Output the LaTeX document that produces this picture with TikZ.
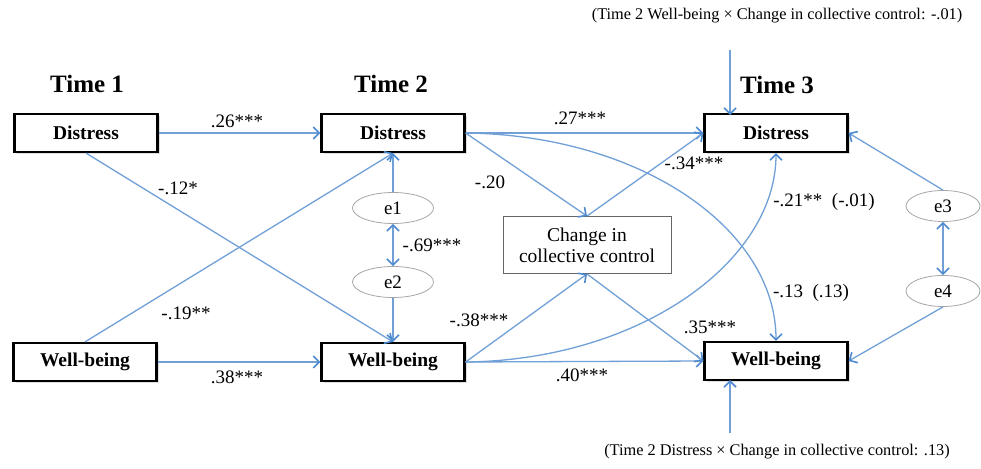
\documentclass[tikz,border=0pt]{standalone}
\usepackage{fontspec}
\setmainfont{Liberation Serif}
\usetikzlibrary{arrows.meta,shapes.geometric,shadows}
\definecolor{ln}{RGB}{112,160,214}
\definecolor{tipc}{RGB}{78,138,208}
\begin{document}
\begin{tikzpicture}[x=1pt,y=-1pt,
  var/.style={draw=black, line width=2.2pt, fill=white, minimum width=143pt, minimum height=38pt,
    font=\fontsize{19.5}{21}\selectfont\bfseries, inner sep=0pt,
    drop shadow={opacity=0.25, shadow xshift=2pt, shadow yshift=-2pt}},
  err/.style={ellipse, draw=gray!70, line width=0.8pt, minimum width=81pt, minimum height=31pt,
    font=\fontsize{19}{21}\selectfont, inner sep=0pt},
  lab/.style={font=\fontsize{19}{21}\selectfont, inner sep=1pt},
  note/.style={font=\fontsize{16.3}{18}\selectfont, inner sep=1pt},
  timelab/.style={font=\fontsize{25}{27}\selectfont\bfseries, inner sep=0pt},
  arr/.style={draw=ln, line width=1.3pt, -{Straight Barb[length=6pt,width=12pt,line width=1.6pt,color=tipc]}},
  darr/.style={draw=ln, line width=1.3pt, {Straight Barb[length=6pt,width=12pt,line width=1.6pt,color=tipc]}-{Straight Barb[length=6pt,width=12pt,line width=1.6pt,color=tipc]}}
]
\useasboundingbox (0,0) rectangle (981,468);

% Time headings
\node[timelab] (t1) at (87,84) {Time 1};
\node[timelab] (t2) at (391,84) {Time 2};
\node[timelab] (t3) at (777,85) {Time 3};

% Variables
\node[var] (D1) at (86,133) {Distress};
\node[var] (W1) at (85,362) {Well-being};
\node[var] (D2) at (393,133) {Distress};
\node[var] (W2) at (393,362) {Well-being};
\node[var] (D3) at (776,133) {Distress};
\node[var] (W3) at (776,361) {Well-being};
\node[draw=gray!80!black, line width=0.9pt, minimum width=168pt, minimum height=57pt, align=center,
  font=\fontsize{19.5}{21}\selectfont, inner sep=0pt] (C) at (587,245) {Change in\\collective control};

% Errors
\node[err] (e1) at (393,208) {e1};
\node[err] (e2) at (393,282) {e2};
\node[err, minimum width=74pt] (e3) at (943,206) {e3};
\node[err, minimum width=74pt] (e4) at (943,291) {e4};

% Interaction notes
\node[note] (topnote) at (777,16) {(Time 2 Well-being × Change in collective control: -.01)};
\node[note] (botnote) at (777,452) {(Time 2 Distress × Change in collective control: .13)};
\coordinate (topstart) at (730,50);
\coordinate (topend) at (730,115);
\coordinate (botstart) at (730,433);
\coordinate (botend) at (730,380);

% Paths
\draw[arr] (D1.east) -- (D2.west);
\draw[arr] (W1.east) -- (W2.west);
\draw[arr] (D1.south) -- (W2.north);
\draw[arr] (W1.north) -- (D2.south);
\draw[arr] (e1.north) -- (D2.south);
\draw[arr] (e2.south) -- (W2.north);
\draw[darr] (e1.south) -- (e2.north);

\draw[arr] (D2.east) -- (D3.west);
\draw[arr] (D2.east) -- (C.north);
\draw[arr] (D2.east) .. controls +(175,2) and +(0,-112) .. (W3.north);
\draw[arr] (W2.east) -- (C.south);
\draw[arr] (W2.east) .. controls +(175,-2) and +(0,108) .. (D3.south);
\draw[arr] (W2.east) -- (W3.west);
\draw[arr] (C.north) -- (D3.west);
\draw[arr] (C.south) -- (W3.west);

\draw[arr] (e3.north) -- (D3.east);
\draw[arr] (e4.south) -- (W3.east);
\draw[darr] (e3.south) -- (e4.north);

\draw[arr] (topstart) -- (topend);
\draw[arr] (botstart) -- (botend);

% Coefficients
\node[lab] (l1) at (237,121) {.26***};
\node[lab] (l2) at (178,188) {-.12*};
\node[lab] (l3) at (432,245) {-.69***};
\node[lab] (l4) at (186,313) {-.19**};
\node[lab] (l5) at (237,377) {.38***};
\node[lab] (l6) at (580,118) {.27***};
\node[lab] (l7) at (490,182) {-.20};
\node[lab] (l8) at (694,163) {-.34***};
\node[lab] (l9) at (824,202) {-.21**\ \ (-.01)};
\node[lab] (l10) at (811,293) {-.13\ \ (.13)};
\node[lab] (l11) at (710,327) {.35***};
\node[lab] (l12) at (479,320) {-.38***};
\node[lab] (l13) at (582,375) {.40***};
\end{tikzpicture}
\end{document}
